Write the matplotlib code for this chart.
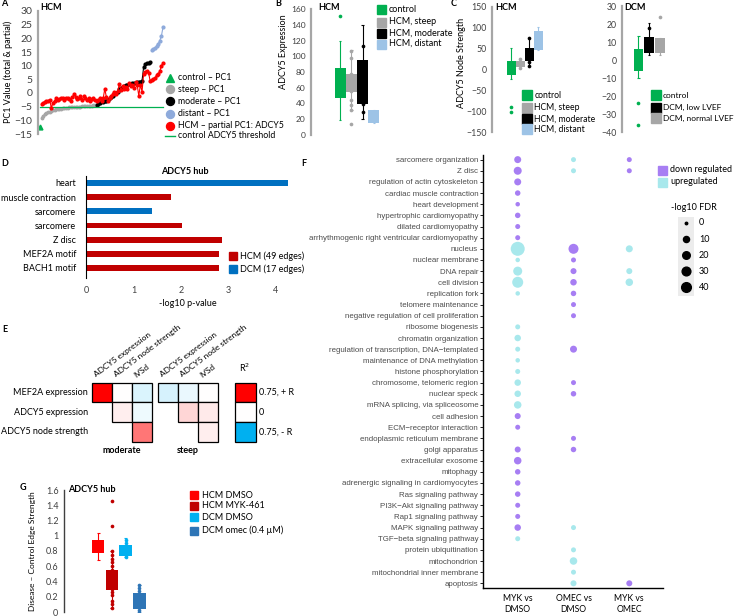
import numpy as np
import matplotlib
matplotlib.use("Agg")
import matplotlib.pyplot as plt
from matplotlib.colors import LinearSegmentedColormap
from matplotlib.patches import Rectangle
from matplotlib.lines import Line2D

plt.rcParams['font.family'] = ['Lato', 'DejaVu Sans']

# ---------------- data ----------------
# A: PC1 per sample (ranked), and partial PC1
ctrl_pc1 = [-12.4]
steep_pc1 = [-9.0, -8.3, -7.8, -7.4, -7.1, -6.8, -6.6, -6.4, -6.2, -6.0, -5.9, -5.8,
             -5.7, -5.6, -5.5, -5.4, -5.35, -5.3, -5.25, -5.2, -5.15, -5.1, -5.05, -5.0,
             -4.95, -4.9, -4.85, -4.8, -4.75, -4.7, -4.65, -4.6, -4.55, -4.5]
moderate_pc1 = [-4.5, -4.0, -3.5, -3.0, -3.2, -3.0, -3.0, -2.5, -2.0, -1.5, -1.0, -0.5,
                0.0, 0.5, 1.5, 2.0, 2.2, 2.5, 2.8, 3.0, 3.2, 3.4, 3.5, 3.6, 3.8, 4.0,
                4.0, 4.2, 4.5, 9.5, 10.5, 11.0, 11.0, 11.2]
distant_pc1 = [15.6, 16.0, 16.5, 17.2, 18.0, 19.2, 21.0, 24.2]
partial_pc1 = [-4.0, -3.5, -3.2, -3.0, -2.8, -2.5, -5.5, -3.5, -3.0, -2.0, -2.5, -2.2,
               -1.8, -2.0, -2.5, -2.0, -1.8, -2.2, -3.0, -1.5, -0.5, -1.5, -2.2, -2.0,
               -1.2, -2.5, -1.0, -2.0, -2.5, -2.0, -2.8, -2.2, -1.8, -2.5, -3.0, -2.5,
               -2.0, -3.0, -2.0, 1.5, -1.5, -3.0, -2.0, -1.0, -0.5, 0.5, -0.5, 0.8,
               3.3, 1.0, 2.5, 1.5, 2.2, 1.5, 3.5, 2.5, 3.0, 2.0, 4.0, 3.0, -1.0, 3.0,
               0.5, 7.0, 7.8, 8.0, 7.5, 4.5, 4.8, 5.0, 5.5, 6.5, 7.0, 8.0, 10.0, 11.0]
ctrl_threshold = -5

# B: ADCY5 expression boxes (control, steep, moderate, distant)
b_labels = ['control', 'HCM, steep', 'HCM, moderate', 'HCM, distant']
b_q1 = [46.7, 54, 39, 15]
b_q3 = [84.9, 77.7, 95.5, 32]
b_lo = [19, 31.8, 20, 15]
b_hi = [119, 108, 140, 32]
b_pts = [[151.5], [107, 97.6, 77.7, 72, 60, 56, 44.6, 38, 31.8, 14], [113, 39, 29.7], []]

# C: ADCY5 node strength, HCM
c_labels = ['control', 'HCM, steep', 'HCM, moderate', 'HCM, distant']
c_q1 = [-13, 7, 21, 48]
c_q3 = [21, 21, 51, 93]
c_lo = [-23, 3, 8, 48]
c_hi = [51, 27, 75, 103]
c_pts = [[-91, -103], [25, 14, 10, 4], [75, 19, 9], []]

# C: ADCY5 node strength, DCM
cd_labels = ['control', 'DCM, low LVEF', 'DCM, normal LVEF']
cd_q1 = [-6, 3.7, 3.7]
cd_q3 = [5.9, 13, 12]
cd_lo = [-9.8, 2.8, 3.0]
cd_hi = [13.3, 20.7, 12]
cd_pts = [[-23.7, -36], [18], [23.7]]

# D: ADCY5 hub enrichment
d_terms = ['heart', 'muscle contraction', 'sarcomere', 'sarcomere', 'Z disc', 'MEF2A motif', 'BACH1 motif']
d_vals = [4.26, 1.80, 1.40, 2.03, 2.86, 2.81, 2.81]
d_group = ['DCM', 'HCM', 'DCM', 'HCM', 'HCM', 'HCM', 'HCM']

# E: correlation R (upper triangle)
e_rows = ['MEF2A expression', 'ADCY5 expression', 'ADCY5 node strength']
e_cols = ['ADCY5 expression', 'ADCY5 node strength', 'IVSd']
moderate_r = [[0.80, 0.0, -0.11], [None, 0.05, -0.05], [None, None, 0.40]]
steep_r = [[-0.12, -0.06, 0.0], [None, 0.12, 0.06], [None, None, 0.05]]
key_r = [0.75, 0.0, -0.75]
key_labels = ['0.75, + R', '0', '0.75, - R']

# F: -log10 FDR per term; sign = direction (+ up, - down), nan = none
f_terms = ['sarcomere organization', 'Z disc', 'regulation of actin cytoskeleton',
           'cardiac muscle contraction', 'heart development', 'hypertrophic cardiomyopathy',
           'dilated cardiomyopathy', 'arrhythmogenic right ventricular cardiomyopathy',
           'nucleus', 'nuclear membrane', 'DNA repair', 'cell division', 'replication fork',
           'telomere maintenance', 'negative regulation of cell proliferation',
           'ribosome biogenesis', 'chromatin organization',
           'regulation of transcription, DNA\u2212templated', 'maintenance of DNA methylation',
           'histone phosphorylation', 'chromosome, telomeric region', 'nuclear speck',
           'mRNA splicing, via spliceosome', 'cell adhesion', 'ECM\u2212receptor interaction',
           'endoplasmic reticulum membrane', 'golgi apparatus', 'extracellular exosome',
           'mitophagy', 'adrenergic signaling in cardiomyocytes', 'Ras signaling pathway',
           'PI3K\u2212Akt signaling pathway', 'Rap1 signaling pathway', 'MAPK signaling pathway',
           'TGF\u2212beta signaling pathway', 'protein ubiquitination', 'mitochondrion',
           'mitochondrial inner membrane', 'apoptosis']
nan = np.nan
myk_fdr = [-15.6, -23.3, -15.6, -6.9, -3.1, -6.9, -4.8, -4.8, 102, 3.1, 32.6, 55.7, 3.1,
           nan, nan, 4.8, 12.3, 4.8, 3.1, 4.8, 12.3, 12.3, 19.3, -9.5, -4.8, nan, -9.5,
           -19.3, -6.9, -6.9, -6.9, -4.8, -4.8, -12.3, 4.8, nan, nan, nan, nan]
omec_fdr = [4.8, 4.8, nan, nan, nan, nan, nan, nan, -43.4, -4.8, -9.5, -12.3, -6.9,
            -4.8, -4.8, nan, nan, -15.6, nan, nan, -4.8, -6.9, nan, nan, nan, -4.8, -6.9,
            nan, nan, nan, nan, nan, nan, 4.8, nan, 4.8, 19.3, 4.8, 9.5]
mvo_fdr = [-4.8, -4.8, nan, nan, nan, nan, nan, nan, 15.6, nan, 9.5, 19.3, nan,
           nan, nan, nan, nan, nan, nan, nan, nan, nan, nan, nan, nan, nan, nan,
           nan, nan, nan, nan, nan, nan, nan, nan, nan, nan, nan, -9.5]
f_comparisons = ['MYK vs\nDMSO', 'OMEC vs\nDMSO', 'MYK vs\nOMEC']
f_size_key = [0, 10, 20, 30, 40]

# G: disease - control edge strength
g_labels = ['HCM DMSO', 'HCM MYK-461', 'DCM DMSO', 'DCM omec (0.4 \u00b5M)']
g_q1 = [0.78, 0.29, 0.73, 0.04]
g_q3 = [0.94, 0.55, 0.88, 0.25]
g_lo = [0.68, 0.05, 0.72, 0.0]
g_hi = [1.04, 0.80, 0.97, 0.35]
g_pts = [[], [1.45, 1.13, 0.80, 0.75, 0.70, 0.65, 0.60, 0.55, 0.30, 0.26, 0.22, 0.15, 0.10, 0.05],
         [0.94, 0.90, 0.85, 0.80, 0.75, 0.72], [0.35, 0.32, 0.27, 0.20, 0.10, 0.03, 0.0]]

# ---------------- styling ----------------
GREEN = '#00b050'
GRAY = '#a6a6a6'
LBLUE = '#9dc3e6'
DRED = '#c00000'
DBLUE = '#0070c0'
PURPLE = '#a77ef3'
CYAN = '#a8e8ec'
TXT = '#404040'

W, H = 737, 616
fig = plt.figure(figsize=(W / 100, H / 100), dpi=100)


def px_axes(l, t, r, b):
    return fig.add_axes([l / W, 1 - b / H, (r - l) / W, (b - t) / H])


def ftext(x, y, s, **kw):
    kw.setdefault('fontsize', 6.5)
    return fig.text(x / W, 1 - y / H, s, **kw)


def fmark(x, y, marker, color, size):
    fig.add_artist(Line2D([x / W], [1 - y / H], marker=marker, color=color,
                          markersize=size * 0.72, linestyle='none',
                          transform=fig.transFigure))


def flegend(x, ys, markers, colors, labels, size=9, gap=8, fs=6.5):
    for y, m, c, lab in zip(ys, markers, colors, labels):
        if m == '-':
            fig.add_artist(Line2D([(x - 5) / W, (x + 5) / W], [1 - y / H, 1 - y / H],
                                  color=c, lw=1, transform=fig.transFigure))
        else:
            fmark(x, y, m, c, size)
        ftext(x + gap, y, lab, va='center', ha='left', fontsize=fs)


def excel_axis(ax, color=GRAY, lw=1.6, fs=6.5):
    for s in ['top', 'right', 'bottom']:
        ax.spines[s].set_visible(False)
    ax.spines['left'].set_color(color)
    ax.spines['left'].set_linewidth(lw)
    ax.set_xticks([])
    ax.tick_params(axis='y', length=0, labelsize=fs, labelcolor=TXT, pad=4)
    ax.patch.set_visible(False)


def boxes(ax, q1, q3, lo, hi, pts, colors, w):
    for i in range(len(q1)):
        x = i + 1
        c = colors[i]
        ax.vlines(x, lo[i], hi[i], color=c, lw=0.8)
        ax.hlines([lo[i], hi[i]], x - w * 0.12, x + w * 0.12, color=c, lw=0.8)
        ax.bar(x, q3[i] - q1[i], bottom=q1[i], width=w, color=c, zorder=2)
        if pts[i]:
            ax.scatter([x] * len(pts[i]), pts[i], s=7, color=c, zorder=3, linewidths=0)


# ---------------- A ----------------
axA = px_axes(38, 11, 166, 134)
x_ctrl = np.arange(len(ctrl_pc1))
x_steep = np.arange(len(steep_pc1)) + len(ctrl_pc1)
x_mod = np.arange(len(moderate_pc1)) + x_steep[-1] + 1
x_dist = np.arange(len(distant_pc1)) + x_mod[-1] + 1
x_part = np.arange(len(partial_pc1)) + 1
axA.plot(x_steep, steep_pc1, 'o-', color=GRAY, ms=1.8, lw=0.8)
axA.plot(x_mod, moderate_pc1, 'o-', color='black', ms=2, lw=0.8)
axA.plot(x_dist, distant_pc1, 'o-', color='#8eaadb', ms=2, lw=0.8)
axA.plot([x_ctrl[0], x_dist[-1]], [ctrl_threshold] * 2, color=GREEN, lw=0.9)
axA.plot(x_part, partial_pc1, 'o-', color='red', ms=2, lw=0.8)
axA.plot(x_ctrl, ctrl_pc1, '^', color=GREEN, ms=3.5)
axA.set_xlim(-1.23, 77.8)
axA.set_ylim(-15, 30)
axA.set_yticks(range(-15, 31, 5))
excel_axis(axA, fs=7.5)
ftext(8, 72, 'PC1 Value (total & partial)', rotation=90, ha='center', va='center')
ftext(40, 7, 'HCM', fontweight='bold', va='center')
flegend(170, [78, 89, 101, 114, 126, 136], ['^', 'o', 'o', 'o', 'o', '-'],
        [GREEN, GRAY, 'black', '#8eaadb', 'red', GREEN],
        ['control \u2013 PC1', 'steep \u2013 PC1', 'moderate \u2013 PC1', 'distant \u2013 PC1',
         'HCM \u2013 partial PC1: ADCY5', 'control ADCY5 threshold'], size=8, gap=8, fs=6.3)

# ---------------- B ----------------
axB = px_axes(311, 9, 382, 135)
boxes(axB, b_q1, b_q3, b_lo, b_hi, b_pts, [GREEN, GRAY, 'black', LBLUE], 0.97)
axB.set_xlim(-1.57, 4.71)
axB.set_ylim(0, 160)
axB.set_yticks(range(0, 161, 20))
excel_axis(axB, fs=6)
ftext(283, 52, 'ADCY5 Expression', rotation=90, ha='center', va='center')
ftext(318, 7, 'HCM', fontweight='bold', va='center')
flegend(380.5, [9, 22, 33, 43.5], ['s'] * 4, [GREEN, GRAY, 'black', LBLUE], b_labels, size=9, gap=8.5)

# ---------------- C ----------------
axC = px_axes(492, 7, 552, 132)
boxes(axC, c_q1, c_q3, c_lo, c_hi, c_pts, [GREEN, GRAY, 'black', LBLUE], 1.0)
axC.set_xlim(-1.11, 5.55)
axC.set_ylim(-150, 150)
axC.set_yticks(range(-150, 151, 50))
excel_axis(axC, fs=6.3)
ftext(462, 63, 'ADCY5 Node Strength', rotation=90, ha='center', va='center')
ftext(495, 7, 'HCM', fontweight='bold', va='center')
flegend(527, [95, 107.7, 118.7, 129.3], ['s'] * 4, [GREEN, GRAY, 'black', LBLUE], c_labels,
        size=9.5, gap=7.5, fs=6.2)

axCD = px_axes(622, 6, 672, 132)
boxes(axCD, cd_q1, cd_q3, cd_lo, cd_hi, cd_pts, [GREEN, 'black', GRAY], 0.9)
axCD.set_xlim(-0.53, 4.12)
axCD.set_ylim(-40, 30)
axCD.set_yticks(range(-40, 31, 10))
excel_axis(axCD, fs=6.3)
ftext(624, 7, 'DCM', fontweight='bold', va='center')
flegend(656, [95, 107.7, 118.3], ['s'] * 3, [GREEN, 'black', GRAY], cd_labels,
        size=9.5, gap=7, fs=6.0)

# ---------------- D ----------------
axD = px_axes(86, 175.9, 290, 277.9)
d_colors = [DRED if g == 'HCM' else DBLUE for g in d_group]
axD.barh(np.arange(len(d_terms)), d_vals, height=0.42, color=d_colors)
axD.set_ylim(6.7, -0.5)
axD.set_xlim(0, 4.3)
axD.set_yticks(np.arange(len(d_terms)))
axD.set_yticklabels(d_terms)
axD.set_xticks(range(0, 5))
for s in ['top', 'right', 'bottom']:
    axD.spines[s].set_visible(False)
axD.spines['left'].set_linewidth(0.8)
axD.tick_params(length=0, labelsize=6.5, pad=7)
axD.tick_params(axis='x', labelcolor=TXT, pad=6)
axD.set_xlabel('-log10 p-value', fontsize=6.5, labelpad=3)
ftext(185, 171, 'ADCY5 hub', fontweight='bold', ha='center', va='center')
flegend(232.5, [256, 269], ['s', 's'], [DRED, DBLUE], ['HCM (49 edges)', 'DCM (17 edges)'], size=8.5, gap=7.5)

# ---------------- E ----------------
axE = px_axes(91.7, 382.7, 256.5, 441.7)
axE.set_xlim(0, 8.2)
axE.set_ylim(3, 0)
axE.axis('off')
cmap = LinearSegmentedColormap.from_list('rb', ['#00b0f0', 'white', '#ff0000'])
norm = plt.Normalize(-0.75, 0.75)
for off, mat in [(0, moderate_r), (3.3, steep_r)]:
    for i in range(3):
        for j in range(3):
            if mat[i][j] is None:
                continue
            axE.add_patch(Rectangle((off + j, i), 1, 1, facecolor=cmap(norm(mat[i][j])),
                                    edgecolor='black', lw=0.9, clip_on=False))
    for j, lab in enumerate(e_cols):
        axE.text(off + j + 0.25, -0.22, lab, rotation=37, rotation_mode='anchor',
                 ha='left', va='bottom', fontsize=6)
for i, v in enumerate(key_r):
    axE.add_patch(Rectangle((7.13, i), 1.05, 1, facecolor=cmap(norm(v)),
                            edgecolor='black', lw=0.9, clip_on=False))
    axE.text(8.3, i + 0.5, key_labels[i], ha='left', va='center', fontsize=6.5)
for i, lab in enumerate(e_rows):
    axE.text(-0.19, i + 0.5, lab, ha='right', va='center', fontsize=6.5)
axE.text(1.5, 3.47, 'moderate', ha='center', va='center', fontsize=6.5, fontweight='bold')
axE.text(4.8, 3.47, 'steep', ha='center', va='center', fontsize=6.5, fontweight='bold')
axE.text(7.6, -0.75, 'R$^2$', ha='center', va='center', fontsize=6.5)

# ---------------- F ----------------
def fdr_size(v):
    d = 2.5 + 7.2 * np.sqrt(np.asarray(v) / 40.0)
    return (0.72 * d) ** 2


axF = px_axes(483, 154.6, 663, 588)
for j, vals in enumerate([myk_fdr, omec_fdr, mvo_fdr]):
    v = np.array(vals, float)
    ok = ~np.isnan(v)
    yy = np.arange(len(f_terms))[ok]
    cols = np.where(v[ok] > 0, CYAN, PURPLE)
    axF.scatter(np.full(ok.sum(), j + 1), yy, s=fdr_size(np.abs(v[ok])), c=list(cols),
                linewidths=0, zorder=3)
axF.set_ylim(38.42, -0.45)
axF.set_xlim(0.378, 3.604)
axF.set_yticks(np.arange(len(f_terms)))
axF.set_yticklabels(f_terms, fontsize=5.7, color='#4d4d4d', family='Liberation Sans')
axF.set_xticks([1, 2, 3])
axF.set_xticklabels(f_comparisons, fontsize=6.2, linespacing=1.3)
for s in ['top', 'right']:
    axF.spines[s].set_visible(False)
for s in ['left', 'bottom']:
    axF.spines[s].set_linewidth(1.0)
axF.tick_params(axis='y', length=2, width=0.6, pad=1.5)
axF.tick_params(axis='x', length=0, pad=4)
axF.patch.set_visible(False)

flegend(662, [170, 182], ['s', 's'], [PURPLE, CYAN], ['down regulated', 'upregulated'], size=9, gap=8)
ftext(694, 207, '-log10 FDR', ha='center', va='center')
fig.add_artist(Rectangle((678 / W, 1 - 296 / H), 16 / W, 79 / H, facecolor='#ececec',
                         edgecolor='none', transform=fig.transFigure))
for yk, val in zip([222.7, 239, 255, 271, 287.3], f_size_key):
    d = np.sqrt(fdr_size(val)) / 0.72
    fmark(686, yk, 'o', 'black', d)
    ftext(699, yk, str(val), va='center', ha='left')

# ---------------- G ----------------
axG = px_axes(64, 490, 150, 612)
boxes(axG, g_q1, g_q3, g_lo, g_hi, g_pts, ['#ff0000', DRED, '#00b0f0', '#2e75b6'], 0.9)
axG.set_xlim(-1.46, 4.76)
axG.set_ylim(0, 1.6)
gt = np.round(np.arange(0, 1.61, 0.2), 1)
axG.set_yticks(gt)
axG.set_yticklabels([f'{t:g}' for t in gt])
excel_axis(axG, color='#404040', lw=1.0, fs=6.5)
ftext(33, 551, 'Disease \u2013 Control Edge Strength', rotation=90, ha='center', va='center', fontsize=6)
ftext(68, 490, 'ADCY5 hub', fontweight='bold', va='center')
flegend(194, [495, 506, 517.3, 530.7], ['s'] * 4, ['#ff0000', DRED, '#00b0f0', '#2e75b6'],
        g_labels, size=8.5, gap=8)

# panel letters
for lab, x, y in [('A', 4, 3), ('B', 278, 3), ('C', 454, 3), ('D', 5, 164),
                  ('E', 5, 330), ('F', 304, 164), ('G', 23, 488)]:
    ftext(x, y, lab, fontweight='bold', ha='center', va='center', fontsize=6.5)

fig.savefig('out.png', dpi=100)
